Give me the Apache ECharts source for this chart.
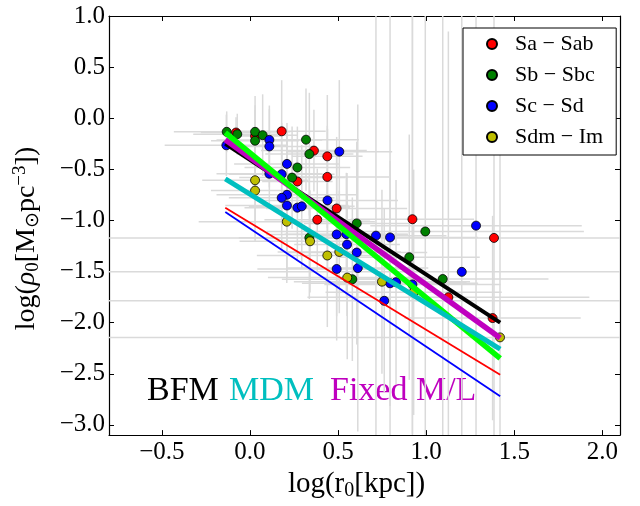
<!DOCTYPE html>
<html><head><meta charset="utf-8">
<script src="https://cdn.jsdelivr.net/npm/echarts@6/dist/echarts.min.js"></script>
<style>html,body{margin:0;padding:0;background:#fff}#c{width:640px;height:506px}</style>
</head><body><div id="c"></div>
<script>
const xTicks = [-0.5, 0, 0.5, 1, 1.5, 2];
const yTicks = [-3, -2.5, -2, -1.5, -1, -0.5, 0, 0.5, 1];

const categories = ['Sa \u2212 Sab', 'Sb \u2212 Sbc', 'Sc \u2212 Sd', 'Sdm \u2212 Im'];

const saX    = [-0.079, 0.029, 0.180, 0.363, 0.439, 0.269, 0.439, 0.492, 0.382, 0.922, 1.385, 1.126, 1.377];
const saY    = [-0.140, -0.174, -0.128, -0.317, -0.373, -0.619, -0.574, -0.883, -0.993, -0.988, -1.171, -1.751, -1.955];
const saXerr = [0.20, 0.15, 0.25, 0.30, 0.20, 0.20, 0.35, 0.40, 0.30, 0.35, 2.30, 0.80, 0.50];
const saYerr = [0.15, 0.30, 0.50, 0.40, 0.60, 0.30, 0.50, 0.70, 0.50, 2.10, 2.30, 2.60, 1.00];

const sbX    = [-0.132, -0.072, 0.029, 0.029, 0.072, 0.318, 0.337, 0.269, 0.239, 0.606, 0.995, 0.904, 1.094, 0.337, 0.581];
const sbY    = [-0.133, -0.156, -0.133, -0.220, -0.166, -0.210, -0.351, -0.482, -0.581, -1.029, -1.108, -1.360, -1.573, -1.169, -1.575];
const sbXerr = [0.30, 0.25, 0.20, 0.25, 0.20, 0.30, 0.25, 0.30, 0.30, 0.30, 0.90, 0.40, 0.60, 0.40, 0.40];
const sbYerr = [0.20, 0.20, 0.35, 0.30, 0.40, 0.50, 0.60, 0.40, 0.50, 0.80, 2.20, 1.20, 2.60, 0.60, 0.80];

const scX    = [-0.134, 0.110, 0.110, 0.507, 0.210, 0.180, 0.110, 0.210, 0.180, 0.210, 0.269, 0.294, 0.440, 0.492, 0.547, 0.551, 0.606, 0.612, 0.492, 0.715, 0.795, 1.283, 1.202, 0.795, 0.829, 0.922, 0.762];
const scY    = [-0.265, -0.212, -0.276, -0.327, -0.447, -0.547, -0.543, -0.749, -0.779, -0.854, -0.875, -0.862, -0.804, -1.137, -1.134, -1.236, -1.314, -1.466, -1.475, -1.149, -1.166, -1.051, -1.503, -1.615, -1.604, -1.626, -1.786];
const scXerr = [0.35, 0.30, 0.25, 0.30, 0.30, 0.30, 0.30, 0.40, 0.30, 0.35, 0.30, 0.30, 0.40, 0.40, 0.35, 0.30, 0.40, 0.40, 0.45, 0.40, 0.50, 0.60, 2.10, 0.50, 0.40, 0.50, 1.70];
const scYerr = [0.30, 0.30, 0.40, 0.70, 0.40, 0.50, 0.30, 0.60, 0.50, 0.70, 0.50, 0.60, 0.70, 0.80, 0.60, 0.70, 0.90, 1.60, 0.70, 2.20, 2.20, 2.10, 2.60, 1.20, 1.00, 2.70, 0.90];

const sdX    = [0.029, 0.029, 0.209, 0.341, 0.439, 0.507, 0.552, 0.749, 0.929, 1.419];
const sdY    = [-0.607, -0.708, -1.012, -1.204, -1.343, -1.308, -1.559, -1.599, -1.703, -2.144];
const sdXerr = [0.30, 0.25, 0.50, 0.40, 0.40, 0.35, 0.45, 0.50, 0.50, 2.30];
const sdYerr = [0.40, 0.50, 0.60, 0.50, 0.70, 0.60, 0.80, 0.90, 1.20, 3.00];

const fitX     = [-0.14, 1.42];
const bfmY     = [-0.25, -2.00];
const fixedY   = [-0.21, -2.15];
const limeY    = [-0.14, -2.35];
const mdmY     = [-0.594, -2.26];
const redFitY  = [-0.875, -2.51];
const blueFitY = [-0.917, -2.72];

const FONT = 'Liberation Serif';
const fmt = v => (v < 0 ? '\u2212' : '') + Math.abs(v).toFixed(1);

function zip4(x, y, xe, ye) { return x.map((v, i) => [v, y[i], xe[i], ye[i]]); }
function zip2(x, y) { return x.map((v, i) => [v, y[i]]); }

const allErr = [].concat(
  zip4(saX, saY, saXerr, saYerr), zip4(sbX, sbY, sbXerr, sbYerr),
  zip4(scX, scY, scXerr, scYerr), zip4(sdX, sdY, sdXerr, sdYerr));

function renderErr(params, api) {
  const x = api.value(0), y = api.value(1), xe = api.value(2), ye = api.value(3);
  const a = api.coord([x - xe, y]), b = api.coord([x + xe, y]);
  const c = api.coord([x, y - ye]), d = api.coord([x, y + ye]);
  const st = { stroke: '#dadada', lineWidth: 1.5 };
  return { type: 'group', children: [
    { type: 'line', shape: { x1: a[0], y1: a[1], x2: b[0], y2: b[1] }, style: st },
    { type: 'line', shape: { x1: c[0], y1: c[1], x2: d[0], y2: d[1] }, style: st }
  ]};
}

const colors = ['#ff0000', '#008000', '#0000ff', '#bfbf00'];
const pts = [zip2(saX, saY), zip2(sbX, sbY), zip2(scX, scY), zip2(sdX, sdY)];

const scatterSeries = categories.map((name, i) => ({
  name, type: 'scatter', data: pts[i], symbol: 'circle', symbolSize: 9,
  itemStyle: { color: colors[i], borderColor: '#000', borderWidth: 0.8, opacity: 1 },
  z: 3, emphasis: { disabled: true }
}));

function fitLine(ys, color, width) {
  return { type: 'line', data: zip2(fitX, ys), symbol: 'none', z: 4,
    lineStyle: { color, width }, emphasis: { disabled: true } };
}

const axisLineStyle = { show: true, onZero: false, lineStyle: { color: '#000', width: 1.2 } };
const tickStyle = { show: true, inside: true, length: 5, lineStyle: { color: '#000', width: 1 } };

const option = {
  animation: false,
  backgroundColor: '#fff',
  grid: { left: 109, right: 20, top: 16, bottom: 62 },
  xAxis: [
    { type: 'value', min: -0.8, max: 2.1, position: 'bottom',
      axisLine: axisLineStyle, splitLine: { show: false },
      axisTick: Object.assign({ customValues: xTicks }, tickStyle),
      axisLabel: { customValues: xTicks, formatter: fmt, fontFamily: FONT, fontSize: 25, color: '#000', margin: 5 },
      name: '{t|log(r}{s|0}{t|[kpc])}', nameLocation: 'middle', nameGap: 31,
      nameTextStyle: { fontFamily: FONT, fontSize: 29, color: '#000', padding: [0, 16, 0, 0],
        rich: { t: { fontFamily: FONT, fontSize: 29, color: '#000' },
                s: { fontFamily: FONT, fontSize: 20, color: '#000', verticalAlign: 'bottom', padding: [13, 0, 0, 0] } } } },
    { type: 'value', min: -0.8, max: 2.1, position: 'top',
      axisLine: axisLineStyle, splitLine: { show: false },
      axisTick: Object.assign({ customValues: xTicks }, tickStyle),
      axisLabel: { show: false } }
  ],
  yAxis: [
    { type: 'value', min: -3.1, max: 1.0, position: 'left',
      axisLine: axisLineStyle, splitLine: { show: false },
      axisTick: Object.assign({ customValues: yTicks }, tickStyle),
      axisLabel: { customValues: yTicks, formatter: fmt, fontFamily: FONT, fontSize: 25, color: '#000', margin: 4 },
      name: '{t|log(}{i|\u03c1}{s|0}{t|[M}{s|\u2299}{t|pc}{p|\u22123}{t|])}',
      nameLocation: 'middle', nameRotate: 90, nameGap: 66,
      nameTextStyle: { fontFamily: FONT, fontSize: 28, color: '#000', padding: [0, 26, 0, 0],
        rich: { t: { fontFamily: FONT, fontSize: 28, color: '#000' },
                i: { fontFamily: FONT, fontSize: 28, color: '#000', fontStyle: 'italic' },
                s: { fontFamily: FONT, fontSize: 19, color: '#000', verticalAlign: 'bottom', padding: [13, 0, 0, 0] },
                p: { fontFamily: FONT, fontSize: 19, color: '#000', verticalAlign: 'top', padding: [0, 0, 13, 0] } } } },
    { type: 'value', min: -3.1, max: 1.0, position: 'right',
      axisLine: axisLineStyle, splitLine: { show: false },
      axisTick: Object.assign({ customValues: yTicks }, tickStyle),
      axisLabel: { show: false } }
  ],
  legend: {
    data: categories, orient: 'vertical', left: 463, top: 28,
    backgroundColor: '#fff', borderColor: '#000', borderWidth: 1,
    padding: [5, 13, 7, 23], itemGap: 9, itemWidth: 36, itemHeight: 10,
    selectedMode: false,
    textStyle: { fontFamily: FONT, fontSize: 22, color: '#000' }
  },
  graphic: [
    { type: 'text', left: 147, top: 374, style: { text: 'BFM', fontFamily: FONT, fontSize: 34, fill: '#000' } },
    { type: 'text', left: 229, top: 374, style: { text: 'MDM', fontFamily: FONT, fontSize: 34, fill: '#00bfbf' } },
    { type: 'text', left: 330, top: 374, style: { text: 'Fixed M/L', fontFamily: FONT, fontSize: 34, fill: '#bf00bf' } }
  ],
  series: [
    { type: 'custom', renderItem: renderErr, data: allErr, z: 1, clip: true, silent: true,
      encode: { x: [0], y: [1] } },
    ...scatterSeries,
    fitLine(bfmY, '#000000', 4),
    fitLine(fixedY, '#bf00bf', 5.5),
    fitLine(limeY, '#00ff00', 5.5),
    fitLine(mdmY, '#00bfbf', 5),
    fitLine(redFitY, '#ff0000', 1.8),
    fitLine(blueFitY, '#0000ff', 1.8)
  ]
};

const chart = echarts.init(document.getElementById('c'), null, { renderer: 'canvas' });
chart.setOption(option);
</script>
</body></html>
